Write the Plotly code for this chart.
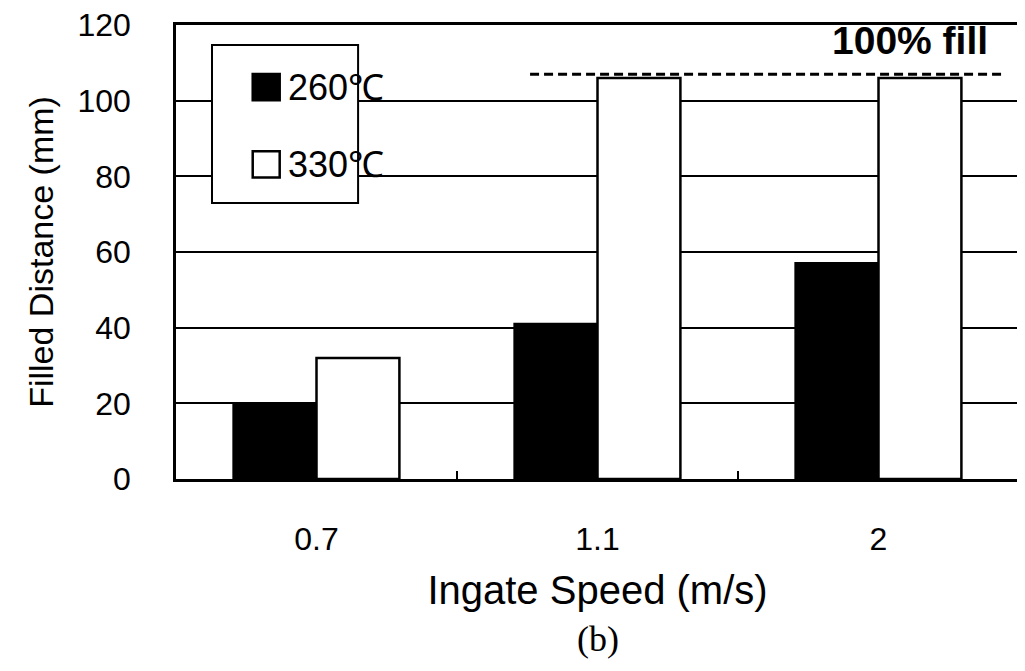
import plotly.graph_objects as go

# ---- data ----
categories = ["0.7", "1.1", "2"]
series_names = ["260℃", "330℃"]
vals_260 = [20, 41, 57]
vals_330 = [32, 106, 106]
fill_level = 107
fill_label = "100% fill"
y_ticks = [0, 20, 40, 60, 80, 100, 120]
x_title = "Ingate Speed (m/s)"
y_title = "Filled Distance (mm)"
panel_label = "(b)"

FONT = "Liberation Sans, Arial, sans-serif"

fig = go.Figure()
fig.add_trace(go.Bar(x=categories, y=vals_260, name=series_names[0],
                     marker=dict(color="black", line=dict(color="black", width=2.5))))
fig.add_trace(go.Bar(x=categories, y=vals_330, name=series_names[1],
                     marker=dict(color="white", line=dict(color="black", width=2.5))))

# 100% fill dashed reference line
fig.add_shape(type="line", xref="paper", yref="y", x0=0.42, x1=0.983,
              y0=fill_level, y1=fill_level,
              line=dict(color="black", width=3, dash="9px,5px"))
fig.add_annotation(text=fill_label, xref="paper", yref="y", x=0.966, y=116,
                   xanchor="right", yanchor="middle", showarrow=False,
                   font=dict(family=FONT, size=39, color="black", weight="bold"))

# legend box (drawn manually to match the reference size)
fig.add_shape(type="rect", xref="paper", yref="paper", x0=0.0427, x1=0.216,
              y0=0.608, y1=0.956, line=dict(color="black", width=2),
              fillcolor="white", layer="above")
leg_y = [0.863, 0.693]
leg_fill = ["black", "white"]
for name, yy, fc in zip(series_names, leg_y, leg_fill):
    fig.add_shape(type="rect", xref="paper", yref="paper",
                  x0=0.091, x1=0.123, y0=yy - 0.029, y1=yy + 0.029,
                  line=dict(color="black", width=2.5), fillcolor=fc, layer="above")
    fig.add_annotation(text=name, xref="paper", yref="paper", x=0.131, y=yy,
                       xanchor="left", yanchor="middle", showarrow=False,
                       font=dict(family=FONT, size=36, color="black"))

fig.add_annotation(text=panel_label, xref="paper", yref="paper", x=0.5, y=-0.352,
                   xanchor="center", yanchor="middle", showarrow=False,
                   font=dict(family="Liberation Serif, Times New Roman, serif",
                             size=36, color="black"))

fig.update_layout(
    width=1025, height=671,
    margin=dict(l=168, r=14, t=17, b=200, autoexpand=False),
    paper_bgcolor="white", plot_bgcolor="white",
    barmode="group", bargap=0.41, bargroupgap=0,
    showlegend=False,
    font=dict(family=FONT, color="black"),
)
fig.update_xaxes(
    type="category", range=[-0.5, 2.5], automargin=False,
    showline=True, mirror=True, linecolor="black", linewidth=2.5,
    showgrid=False, tickson="boundaries", ticks="inside", ticklen=8,
    tickwidth=2, tickcolor="black",
    tickfont=dict(family=FONT, size=32), ticklabelstandoff=30,
    title=dict(text=x_title, font=dict(family=FONT, size=40), standoff=20),
)
fig.update_yaxes(
    range=[0, 120], tickvals=y_ticks, ticklabeloverflow="allow", automargin=False,
    showline=True, mirror=True, linecolor="black", linewidth=2.5,
    showgrid=True, gridcolor="black", gridwidth=2, zeroline=False,
    ticks="", tickfont=dict(family=FONT, size=32), ticklabelstandoff=36,
    title=dict(text=y_title, font=dict(family=FONT, size=34), standoff=14),
)

fig.write_html("out.html")
